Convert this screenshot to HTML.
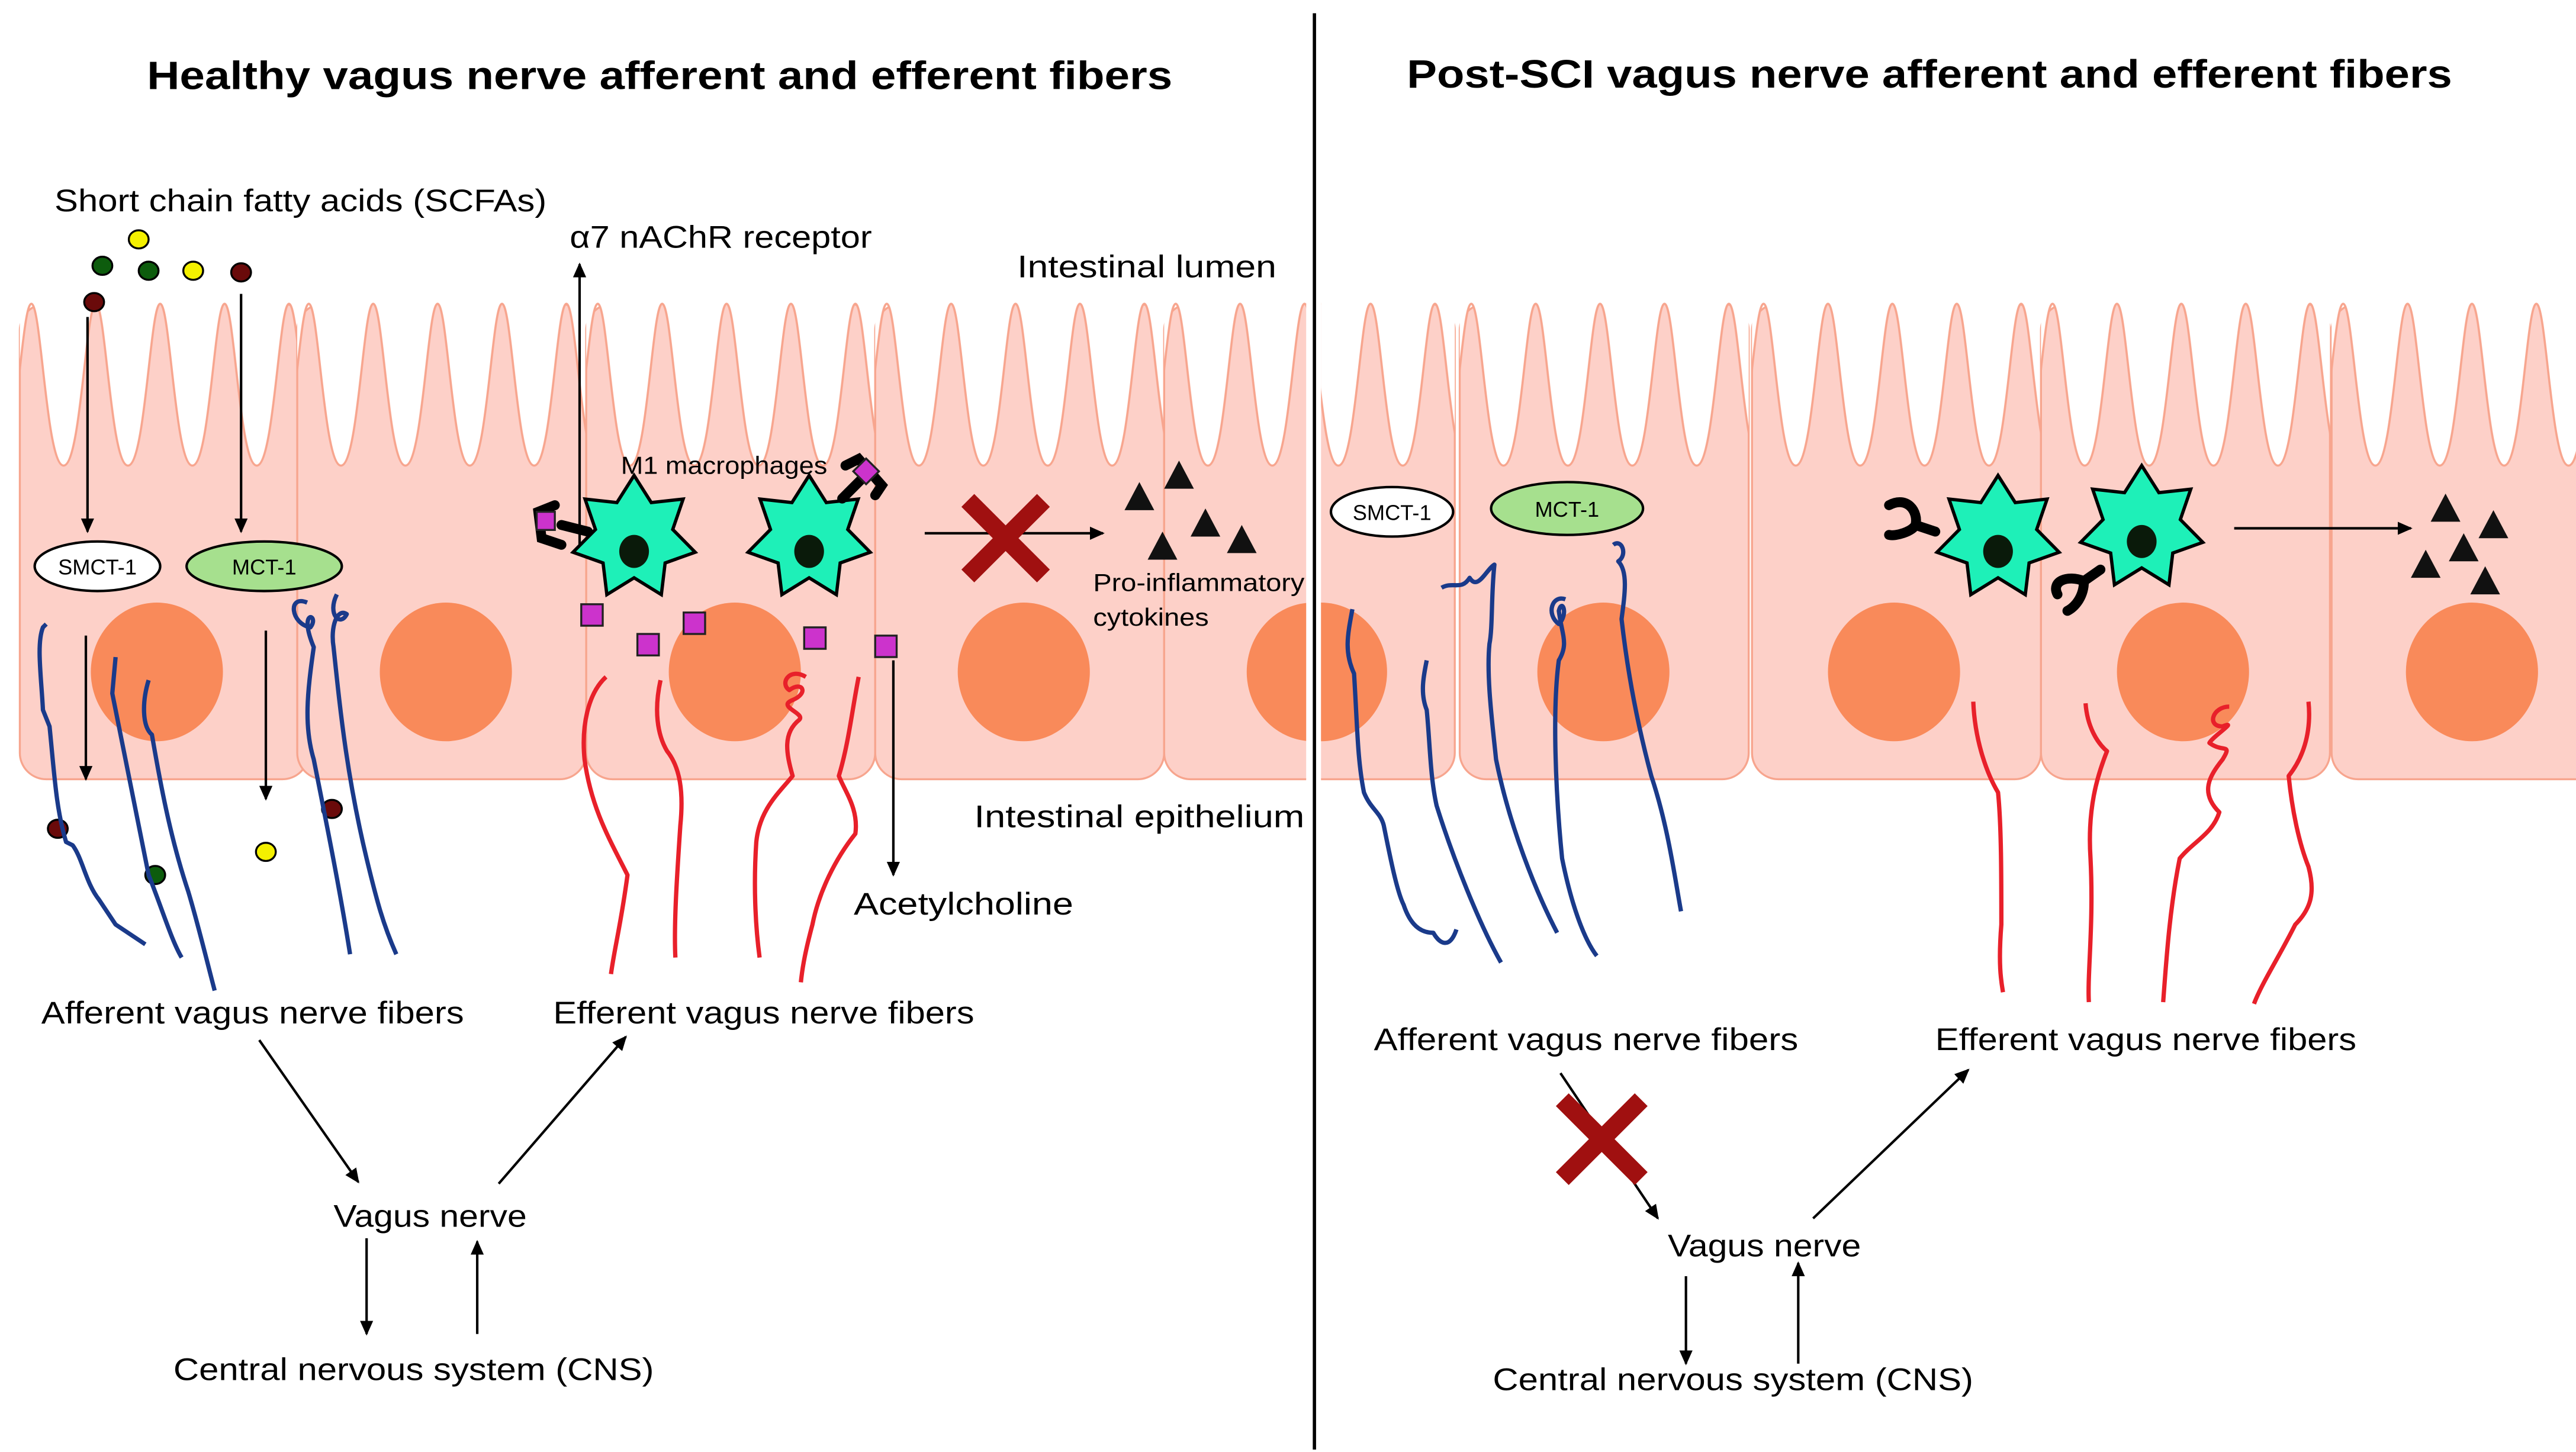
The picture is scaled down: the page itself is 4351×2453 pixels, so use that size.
<!DOCTYPE html>
<html><head><meta charset="utf-8"><style>html,body{margin:0;padding:0;background:#fff}svg{display:block}</style></head>
<body>
<svg xmlns="http://www.w3.org/2000/svg" width="4351" height="2453" viewBox="0 0 1560 879.5" font-family="Liberation Sans, sans-serif">
<defs>
<pattern id="villi" patternUnits="userSpaceOnUse" x="7" y="180" width="39" height="110">
<path d="M0,0 L0,4 C6,4 9,102 19.5,102 C30,102 33,4 39,4 L39,0 Z" fill="#fff"/>
<path d="M0,4 C6,4 9,102 19.5,102 C30,102 33,4 39,4" fill="none" stroke="#f7a58e" stroke-width="1.3"/>
</pattern>
<marker id="ar" markerWidth="10" markerHeight="10" refX="8" refY="5" orient="auto" markerUnits="userSpaceOnUse"><path d="M0,1 L9,5 L0,9 Z" fill="#000"/></marker>
<symbol id="star" viewBox="-40 -40 80 80" overflow="visible">
<polygon points="0,-38 10.4,-21.6 29.7,-23.7 23.4,-5.3 37,8.5 18.8,15 16.5,34.2 0,24 -16.5,34.2 -18.8,15 -37,8.5 -23.4,-5.3 -29.7,-23.7 -10.4,-21.6" fill="#1ef0b8" stroke="#000" stroke-width="2"/>
<ellipse cx="0" cy="8" rx="9" ry="10" fill="#0a1a0a"/>
</symbol>
<g id="cell">
<rect x="0" y="184" width="175" height="288" rx="16" fill="#fdd0c8" stroke="#f7a58e" stroke-width="1.2"/>
<rect x="0" y="182" width="175" height="104" fill="url(#villi)"/>
</g>
<clipPath id="clipL"><rect x="0" y="0" width="791" height="880"/></clipPath>
<clipPath id="clipR"><rect x="800" y="0" width="760" height="880"/></clipPath>
</defs>

<g clip-path="url(#clipL)">
<use href="#cell" x="12"/><use href="#cell" x="180"/><use href="#cell" x="355"/><use href="#cell" x="530"/><use href="#cell" x="705"/>
<g fill="#f98a5a">
<ellipse cx="95" cy="407" rx="40" ry="42"/><ellipse cx="270" cy="407" rx="40" ry="42"/><ellipse cx="445" cy="407" rx="40" ry="42"/><ellipse cx="620" cy="407" rx="40" ry="42"/><ellipse cx="795" cy="407" rx="40" ry="42"/>
</g>
</g>
<g clip-path="url(#clipR)">
<use href="#cell" x="706"/><use href="#cell" x="884"/><use href="#cell" x="1061"/><use href="#cell" x="1236"/><use href="#cell" x="1412"/>
<g fill="#f98a5a">
<ellipse cx="800" cy="407" rx="40" ry="42"/><ellipse cx="971" cy="407" rx="40" ry="42"/><ellipse cx="1147" cy="407" rx="40" ry="42"/><ellipse cx="1322" cy="407" rx="40" ry="42"/><ellipse cx="1497" cy="407" rx="40" ry="42"/>
</g>
</g>

<line x1="796" y1="8" x2="796" y2="878" stroke="#000" stroke-width="2"/>

<text x="89" y="54" font-size="24" font-weight="bold" textLength="621" lengthAdjust="spacingAndGlyphs">Healthy vagus nerve afferent and efferent fibers</text>
<text x="852" y="53" font-size="24" font-weight="bold" textLength="633" lengthAdjust="spacingAndGlyphs">Post-SCI vagus nerve afferent and efferent fibers</text>

<g font-size="19">
<text x="33" y="128" textLength="298" lengthAdjust="spacingAndGlyphs">Short chain fatty acids (SCFAs)</text>
<text x="345" y="150" textLength="183" lengthAdjust="spacingAndGlyphs">α7 nAChR receptor</text>
<text x="616" y="168" textLength="157" lengthAdjust="spacingAndGlyphs">Intestinal lumen</text>
<text x="590" y="501" textLength="200" lengthAdjust="spacingAndGlyphs">Intestinal epithelium</text>
<text x="517" y="554" textLength="133" lengthAdjust="spacingAndGlyphs">Acetylcholine</text>
<text x="25" y="620" textLength="256" lengthAdjust="spacingAndGlyphs">Afferent vagus nerve fibers</text>
<text x="335" y="620" textLength="255" lengthAdjust="spacingAndGlyphs">Efferent vagus nerve fibers</text>
<text x="202" y="743" textLength="117" lengthAdjust="spacingAndGlyphs">Vagus nerve</text>
<text x="105" y="836" textLength="291" lengthAdjust="spacingAndGlyphs">Central nervous system (CNS)</text>
<text x="832" y="636" textLength="257" lengthAdjust="spacingAndGlyphs">Afferent vagus nerve fibers</text>
<text x="1172" y="636" textLength="255" lengthAdjust="spacingAndGlyphs">Efferent vagus nerve fibers</text>
<text x="1010" y="761" textLength="117" lengthAdjust="spacingAndGlyphs">Vagus nerve</text>
<text x="904" y="842" textLength="291" lengthAdjust="spacingAndGlyphs">Central nervous system (CNS)</text>
</g>
<g font-size="15">
<text x="376" y="287" textLength="125" lengthAdjust="spacingAndGlyphs">M1 macrophages</text>
<text x="662" y="358" textLength="128" lengthAdjust="spacingAndGlyphs">Pro-inflammatory</text>
<text x="662" y="379" textLength="70" lengthAdjust="spacingAndGlyphs">cytokines</text>
</g>

<g stroke="#000" stroke-width="1.2">
<ellipse cx="84" cy="145" rx="6" ry="5.5" fill="#f4f000"/>
<ellipse cx="62" cy="161" rx="6" ry="5.5" fill="#0d5c0d"/>
<ellipse cx="90" cy="164" rx="6" ry="5.5" fill="#0d5c0d"/>
<ellipse cx="117" cy="164" rx="6" ry="5.5" fill="#f4f000"/>
<ellipse cx="146" cy="165" rx="6" ry="5.5" fill="#6a0a0a"/>
<ellipse cx="57" cy="183" rx="6" ry="5.5" fill="#6a0a0a"/>
<ellipse cx="35" cy="502" rx="6" ry="5.5" fill="#6a0a0a"/>
<ellipse cx="201" cy="490" rx="6" ry="5.5" fill="#6a0a0a"/>
<ellipse cx="94" cy="530" rx="6" ry="5.5" fill="#0d5c0d"/>
<ellipse cx="161" cy="516" rx="6" ry="5.5" fill="#f4f000"/>
</g>

<g stroke="#000" stroke-width="1.5" font-size="13" text-anchor="middle">
<ellipse cx="59" cy="343" rx="38" ry="15" fill="#fff"/><text x="59" y="348" stroke="none">SMCT-1</text>
<ellipse cx="160" cy="343" rx="47" ry="15" fill="#a6e08e"/><text x="160" y="348" stroke="none">MCT-1</text>
<ellipse cx="843" cy="310" rx="37" ry="15" fill="#fff"/><text x="843" y="315" stroke="none">SMCT-1</text>
<ellipse cx="949" cy="308" rx="46" ry="16" fill="#a6e08e"/><text x="949" y="313" stroke="none">MCT-1</text>
</g>

<g stroke="#000" stroke-width="1.5" marker-end="url(#ar)" fill="none">
<line x1="53" y1="192" x2="53" y2="322"/>
<line x1="146" y1="178" x2="146" y2="322"/>
<line x1="52" y1="385" x2="52" y2="472"/>
<line x1="161" y1="382" x2="161" y2="484"/>
<line x1="351" y1="330" x2="351" y2="160"/>
<line x1="541" y1="400" x2="541" y2="530"/>
<line x1="560" y1="323" x2="668" y2="323"/>
<line x1="157" y1="630" x2="217" y2="716"/>
<line x1="302" y1="717" x2="379" y2="628"/>
<line x1="222" y1="750" x2="222" y2="808"/>
<line x1="289" y1="808" x2="289" y2="752"/>
<line x1="1353" y1="320" x2="1460" y2="320"/>
<line x1="945" y1="650" x2="1004" y2="738"/>
<line x1="1098" y1="738" x2="1192" y2="648"/>
<line x1="1021" y1="773" x2="1021" y2="826"/>
<line x1="1089" y1="826" x2="1089" y2="765"/>
</g>

<g fill="none" stroke="#1a3a8a" stroke-width="2.6" stroke-linejoin="round">
<path d="M28,378 L26,380 C22,390 25,410 26,430 L30,440 C33,470 34,490 40,510 L44,512 C50,520 52,535 60,545 L70,560 L88,572"/>
<path d="M70,398 L68,420 L72,440 C78,470 84,500 90,530 C98,550 104,570 110,580"/>
<path d="M90,412 C86,425 86,440 92,445 C98,480 104,510 114,540 C120,560 126,585 130,600"/>
<path d="M186,365 C174,360 176,378 188,380 C194,372 180,368 190,392 C186,420 184,440 190,460 C198,500 206,540 212,578"/>
<path d="M204,360 C198,372 206,380 210,372 C204,368 200,380 202,392 C206,430 210,470 222,520 C228,545 232,560 240,578"/>
<path d="M819,369 C816,385 814,395 820,408 C822,440 822,460 826,480 C830,490 836,492 838,500 C842,520 846,540 850,548 C854,560 860,565 868,565 C872,572 878,575 882,563"/>
<path d="M864,400 C862,410 860,420 864,430 C866,450 866,470 870,488 C880,520 896,560 909,583"/>
<path d="M873,356 C880,352 885,358 890,350 C895,358 900,345 905,342 C903,360 904,380 902,390 C900,410 904,440 906,460 C914,500 930,540 943,565"/>
<path d="M948,363 C940,360 936,372 944,378 C950,372 946,362 944,370 C946,385 950,390 944,400 C940,430 942,480 946,520 C952,550 960,570 967,579"/>
<path d="M977,330 C982,326 986,336 980,340 C986,346 984,360 982,375 C986,410 992,440 1000,470 C1010,500 1014,530 1018,552"/>
</g>
<g fill="none" stroke="#e8202a" stroke-width="2.6" stroke-linejoin="round">
<path d="M367,410 C356,420 352,440 354,460 C358,490 370,510 380,530 C376,560 372,575 370,590"/>
<path d="M400,412 C396,430 398,445 404,455 C412,465 414,480 412,500 C410,530 408,560 409,580"/>
<path d="M488,410 C478,404 472,414 478,418 C486,412 490,420 480,424 C470,428 488,432 484,436 C474,444 476,456 480,470 C472,480 460,490 458,510 C456,540 458,565 460,580"/>
<path d="M520,410 C516,430 514,450 508,470 C512,480 520,490 518,505 C506,520 496,540 492,560 C488,575 486,585 485,595"/>
<path d="M1195,425 C1196,450 1204,470 1210,480 C1212,500 1212,530 1212,560 C1210,585 1212,595 1213,601"/>
<path d="M1263,426 C1264,440 1270,450 1276,455 C1270,470 1264,490 1266,520 C1268,560 1264,590 1265,607"/>
<path d="M1350,428 C1340,428 1336,440 1346,440 C1356,436 1340,446 1338,450 C1346,456 1352,450 1346,460 C1338,470 1332,480 1344,492 C1340,505 1328,510 1320,520 C1314,550 1312,580 1310,607"/>
<path d="M1398,425 C1400,445 1394,460 1386,470 C1388,490 1392,510 1398,525 C1402,540 1400,550 1390,560 C1380,580 1370,595 1365,608"/>
</g>

<use href="#star" x="344" y="286" width="80" height="80"/>
<use href="#star" x="450" y="286" width="80" height="80"/>
<use href="#star" x="1170" y="286" width="80" height="80"/>
<use href="#star" x="1257" y="280" width="80" height="80"/>

<g stroke="#000" stroke-width="6" stroke-linecap="round" fill="none">
<path d="M356,322 L340,318 M336,306 L326,310 L328,326 L340,330"/>
<path d="M510,302 L522,290 M512,282 L520,278 L534,294 L530,300"/>
<path d="M1172,322 L1160,318 M1144,306 C1155,300 1162,310 1160,318 C1158,322 1148,325 1144,324"/>
<path d="M1272,345 L1262,352 M1262,352 C1252,348 1242,352 1246,360 M1262,352 C1262,362 1256,368 1252,370"/>
</g>
<g fill="#cc33cc" stroke="#222" stroke-width="1.2">
<rect x="325" y="310" width="11" height="11"/>
<rect x="519" y="280" width="11" height="11" transform="rotate(45 524.5 285.5)"/>
<rect x="352" y="366" width="13" height="13"/>
<rect x="386" y="384" width="13" height="13"/>
<rect x="414" y="371" width="13" height="13"/>
<rect x="487" y="380" width="13" height="13"/>
<rect x="530" y="385" width="13" height="13"/>
</g>

<g fill="#111">
<polygon points="690,292 681,309 699,309"/><polygon points="714,279 705,296 723,296"/><polygon points="730,308 721,325 739,325"/><polygon points="704,322 695,339 713,339"/><polygon points="752,318 743,335 761,335"/>
<polygon points="1481,299 1472,316 1490,316"/><polygon points="1510,309 1501,326 1519,326"/><polygon points="1492,323 1483,340 1501,340"/><polygon points="1469,333 1460,350 1478,350"/><polygon points="1505,343 1496,360 1514,360"/>
</g>

<g stroke="#a01010" stroke-width="11" stroke-linecap="square">
<path d="M590,307 L628,345 M628,307 L590,345"/>
<path d="M950,670 L990,710 M990,670 L950,710"/>
</g>
</svg>
</body></html>
